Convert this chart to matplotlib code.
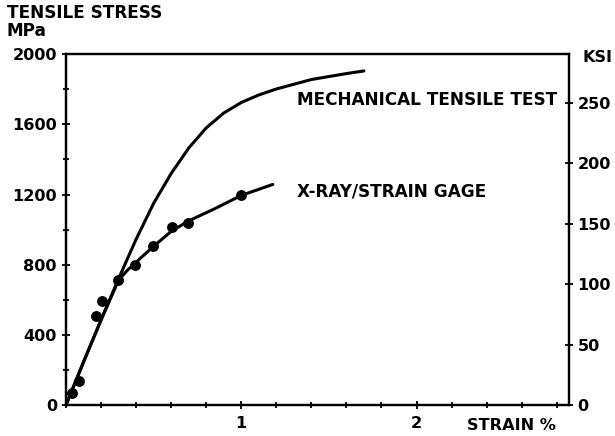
import matplotlib
matplotlib.use("Agg")
import matplotlib.pyplot as plt
from matplotlib.ticker import MultipleLocator
from matplotlib.font_manager import FontProperties

# courbe essai de traction mecanique (strain %, MPa)
mech_strain = [0, 0.1, 0.2, 0.3, 0.4, 0.5, 0.6, 0.7, 0.8, 0.9, 1.0, 1.1, 1.2, 1.4, 1.6, 1.70]
mech_stress = [0, 245, 485, 720, 945, 1150, 1320, 1465, 1580, 1665, 1725, 1768, 1802, 1856, 1890, 1905]

# courbe rayons X / jauge
xray_strain = [0, 0.1, 0.2, 0.3, 0.35, 0.4, 0.5, 0.6, 0.7, 0.85, 1.0, 1.18]
xray_stress = [0, 245, 485, 712, 768, 815, 905, 990, 1050, 1120, 1195, 1258]

# points mesures
pts_strain = [0.035, 0.076, 0.174, 0.203, 0.297, 0.395, 0.496, 0.606, 0.695, 1.0]
pts_stress = [67, 137, 505, 592, 712, 799, 905, 1013, 1040, 1200]

MPA_PER_KSI = 6.89476
tick_font = {'family': 'DejaVu Sans', 'weight': 'bold', 'size': 11.6}
lab_font = {'family': 'DejaVu Sans', 'weight': 'bold', 'size': 12.2}

fig = plt.figure(figsize=(6.15, 4.36), dpi=100)
ax = fig.add_axes([0.1073, 0.0711, 0.8179, 0.8044])

ax.plot(mech_strain, mech_stress, color='black', lw=2.2, solid_capstyle='round')
ax.plot(xray_strain, xray_stress, color='black', lw=2.2, solid_capstyle='round')
ax.plot(pts_strain, pts_stress, 'o', color='black', ms=6.8)

ax.set_xlim(0, 2.87)
ax.set_ylim(0, 2000)

ax.yaxis.set_major_locator(MultipleLocator(400))
ax.yaxis.set_minor_locator(MultipleLocator(200))
ax.xaxis.set_minor_locator(MultipleLocator(0.2))
ax.set_xticks([1, 2])
ax.set_xticklabels(['1', '2'])
ax.tick_params(axis='both', which='both', direction='inout', width=1.3, colors='black')
ax.tick_params(axis='both', which='major', length=6)
ax.tick_params(axis='both', which='minor', length=5)
ax.tick_params(axis='x', which='major', pad=5)
for lab in ax.get_xticklabels() + ax.get_yticklabels():
    lab.set_fontproperties(FontProperties(**tick_font))

for sp in ax.spines.values():
    sp.set_linewidth(1.6)

ax2 = ax.twinx()
ax2.set_ylim(0, 2000 / MPA_PER_KSI)
ax2.yaxis.set_major_locator(MultipleLocator(50))
ax2.tick_params(axis='y', direction='inout', length=6, width=1.3, pad=3)
for lab in ax2.get_yticklabels():
    lab.set_fontproperties(FontProperties(**tick_font))
for sp in ax2.spines.values():
    sp.set_linewidth(1.6)

fig.text(7 / 615, 1 - 13 / 436, 'TENSILE STRESS', va='center', ha='left', **lab_font)
fig.text(7 / 615, 1 - 31 / 436, 'MPa', va='center', ha='left', **lab_font)
fig.text(583 / 615, 1 - 58 / 436, 'KSI', va='center', ha='left', **tick_font)
fig.text(511 / 615, 1 - 425 / 436, 'STRAIN %', va='center', ha='center', **tick_font)

ax.text(1.32, 1740, 'MECHANICAL TENSILE TEST', va='center', ha='left', **lab_font)
ax.text(1.32, 1215, 'X-RAY/STRAIN GAGE', va='center', ha='left', **lab_font)

fig.savefig('out.png', dpi=100)
